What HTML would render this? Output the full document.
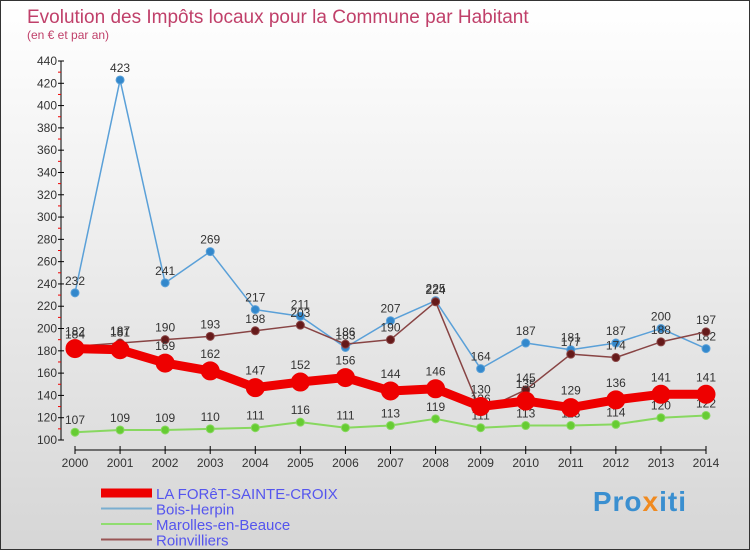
<!DOCTYPE html>
<html><head><meta charset="utf-8"><style>
body{margin:0;width:750px;height:550px;overflow:hidden}
#wrap{position:relative;width:748px;height:548px;border:1px solid #333;background:linear-gradient(#fff,#f3f3f3 30%,#d6d6d6)}
text{font-family:"Liberation Sans",sans-serif}
</style></head><body>
<div id="wrap">
<svg id="chart" width="748" height="548">
<text x="26" y="22" font-size="19" fill="#c0406a">Evolution des Impôts locaux pour la Commune par Habitant</text>
<text x="26" y="38" font-size="12" fill="#c0406a">(en € et par an)</text>
</svg>
<div style="position:absolute;right:62px;top:485px;font:bold 28px 'Liberation Sans',sans-serif;letter-spacing:1px"><span style="color:#3a8fd0">Pro</span><span style="color:#f08a20">x</span><span style="color:#3a8fd0">iti</span></div>
</div>
<script>
const years=[2000,2001,2002,2003,2004,2005,2006,2007,2008,2009,2010,2011,2012,2013,2014];
const foret=[182,181,169,162,147,152,156,144,146,130,135,129,136,141,141];
const bois=[232,423,241,269,217,211,183,207,225,164,187,181,187,200,182];
const marolles=[107,109,109,110,111,116,111,113,119,111,113,113,114,120,122];
const roin=[184,187,190,193,198,203,186,190,224,126,145,177,174,188,197];
const yTicks=[100,120,140,160,180,200,220,240,260,280,300,320,340,360,380,400,420,440];
const svg=document.getElementById('chart');const NS='http://www.w3.org/2000/svg';
const X=i=>74+i*(705-74)/(years.length-1);
const Y=v=>439-(v-100)*(379/340);
function mk(t,a,p){const e=document.createElementNS(NS,t);for(const k in a)e.setAttribute(k,a[k]);(p||svg).appendChild(e);return e;}
let ax=mk('g',{});


mk('line',{x1:60,y1:Y(440),x2:60,y2:Y(100),stroke:'#000'},ax);
yTicks.forEach(v=>{mk('line',{x1:57,y1:Y(v),x2:63,y2:Y(v),stroke:'#000'},ax);
 if(v<440)mk('line',{x1:57,y1:Y(v+10),x2:60,y2:Y(v+10),stroke:'#e00'},ax);
 const t=mk('text',{x:56,y:Y(v)+4,'font-size':12,'text-anchor':'end',fill:'#333'},ax);t.textContent=v;
 
 });
let xa=mk('g',{});


mk('line',{x1:X(0),y1:449,x2:X(14),y2:449,stroke:'#000'},xa);
years.forEach((y,i)=>{mk('line',{x1:X(i),y1:445,x2:X(i),y2:453,stroke:'#000'},xa);
 const t=mk('text',{x:X(i),y:466,'font-size':12,'text-anchor':'middle',fill:'#333'},xa);t.textContent=y;
 
 });
function series(d,name,col,w,r,dot){const g=mk('g',{});
 
 
 mk('polyline',{points:d.map((v,i)=>X(i)+','+Y(v)).join(' '),fill:'none',stroke:col,'stroke-width':w,'stroke-linejoin':'round'},g);
 d.forEach((v,i)=>{const c=mk('circle',{cx:X(i),cy:Y(v),r:r,fill:dot,stroke:col,'stroke-width':1},g);
  
  
  const t=mk('text',{x:X(i),y:Y(v)-r-4,'font-size':12,'text-anchor':'middle',fill:'#333'},g);t.textContent=v;
  
  });}
series(marolles,'marolles-series','#88d860',2,4,'#66cc33');
series(bois,'bois-herpin-series','#5aa0d8',1.5,4,'#3388cc');
series(roin,'roinvilliers-series','#884444',1.5,4,'#661a1a');
series(foret,'foret-series','#ee0000',9,9,'#ee0000');
const names=['LA FORêT-SAINTE-CROIX','Bois-Herpin','Marolles-en-Beauce','Roinvilliers'];
const cols=['#ee0000','#7aaed0','#90dd70','#995555'],ws=[9,2,2,2];
names.forEach((n,i)=>{const g=mk('g',{});
 
 
 const y=492+i*15.5;
 mk('line',{x1:100,y1:y,x2:151,y2:y,stroke:cols[i],'stroke-width':ws[i]},g);
 const t=mk('text',{x:155,y:y+6,'font-size':15,fill:'#5555ee'},g);t.textContent=n;});
</script>
</body></html>
